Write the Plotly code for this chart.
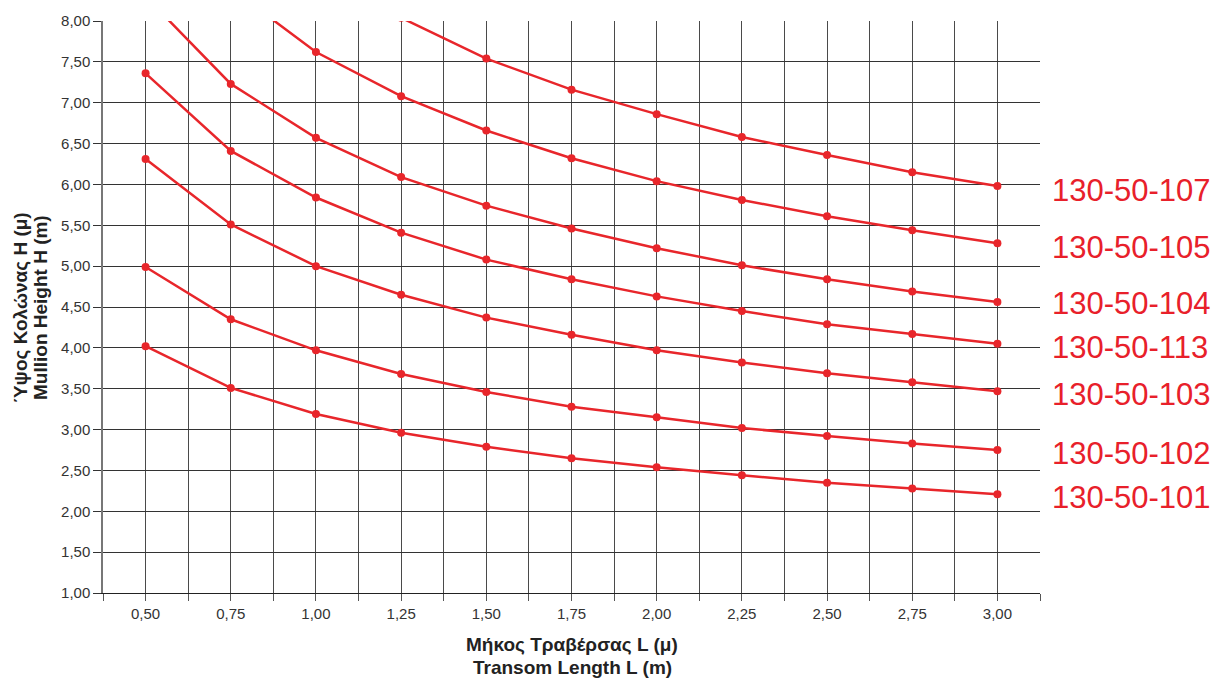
import plotly.graph_objects as go

# ---- data ----
L = [0.50, 0.75, 1.00, 1.25, 1.50, 1.75, 2.00, 2.25, 2.50, 2.75, 3.00]

series_names = ["130-50-107", "130-50-105", "130-50-104", "130-50-113",
                "130-50-103", "130-50-102", "130-50-101"]

h_107 = [None, None, 9.20, 8.04, 7.54, 7.16, 6.86, 6.58, 6.36, 6.15, 5.98]
h_105 = [9.64, 8.40, 7.62, 7.08, 6.66, 6.32, 6.04, 5.81, 5.61, 5.44, 5.28]
h_104 = [8.30, 7.23, 6.57, 6.09, 5.74, 5.46, 5.22, 5.01, 4.84, 4.69, 4.56]
h_113 = [7.36, 6.41, 5.84, 5.41, 5.08, 4.84, 4.63, 4.45, 4.29, 4.17, 4.05]
h_103 = [6.31, 5.51, 5.00, 4.65, 4.37, 4.16, 3.97, 3.82, 3.69, 3.58, 3.47]
h_102 = [4.99, 4.35, 3.97, 3.68, 3.46, 3.28, 3.15, 3.02, 2.92, 2.83, 2.75]
h_101 = [4.02, 3.51, 3.19, 2.96, 2.79, 2.65, 2.54, 2.44, 2.35, 2.28, 2.21]

series_values = [h_107, h_105, h_104, h_113, h_103, h_102, h_101]

x_tickvals = [0.375 + 0.125 * i for i in range(23)]
x_ticktext = ["" if abs((v - 0.5) / 0.25 - round((v - 0.5) / 0.25)) > 1e-9
              else f"{v:.2f}".replace(".", ",") for v in x_tickvals]
y_tickvals = [1.0 + 0.5 * i for i in range(15)]
y_ticktext = [f"{v:.2f}".replace(".", ",") for v in y_tickvals]

# label placement (layout only)
label_y = [5.93, 5.23, 4.54, 4.01, 3.43, 2.71, 2.17]

RED = "#e8262b"
FONT = "Liberation Sans, Arial, sans-serif"

fig = go.Figure()
for name, vals in zip(series_names, series_values):
    fig.add_trace(go.Scatter(
        x=L, y=vals, name=name, mode="lines+markers",
        line=dict(color=RED, width=2.5),
        marker=dict(color=RED, size=8),
        cliponaxis=True, showlegend=False,
    ))

W, H = 1216, 680
ml, mr, mt, mb = 103, 176, 17, 87
pw = W - ml - mr
ph = H - mt - mb

def px_x(p):
    return (p - ml) / pw

def px_y(p):
    return 1 - (p - mt) / ph

annotations = []
for name, ly in zip(series_names, label_y):
    annotations.append(dict(
        x=px_x(1050), xref="paper", y=ly, yref="y",
        text=name, showarrow=False, xanchor="left", yanchor="middle",
        font=dict(family=FONT, size=31, color="#e8202a"),
    ))

TITLE_FONT = dict(family=FONT, size=19, color="#222")
annotations += [
    dict(x=px_x(572), y=px_y(645), xref="paper", yref="paper",
         text="<b>Μήκος Τραβέρσας L (μ)</b>", showarrow=False,
         xanchor="center", yanchor="middle", font=TITLE_FONT),
    dict(x=px_x(572), y=px_y(668), xref="paper", yref="paper",
         text="<b>Transom Length L (m)</b>", showarrow=False,
         xanchor="center", yanchor="middle", font=TITLE_FONT),
    dict(x=px_x(21), y=px_y(306), xref="paper", yref="paper",
         text="<b>Ύψος Κολώνας Η (μ)</b>", showarrow=False, textangle=-90,
         xanchor="center", yanchor="middle", font=TITLE_FONT),
    dict(x=px_x(41), y=px_y(306), xref="paper", yref="paper",
         text="<b>Mullion Height H (m)</b>", showarrow=False, textangle=-90,
         xanchor="center", yanchor="middle", font=TITLE_FONT),
]

fig.update_layout(
    width=W, height=H,
    margin=dict(l=ml, r=mr, t=mt, b=mb),
    paper_bgcolor="white", plot_bgcolor="white",
    font=dict(family=FONT, size=15, color="#333"),
    annotations=annotations,
    xaxis=dict(
        range=[0.375, 3.125], tickmode="array",
        tickvals=x_tickvals, ticktext=x_ticktext,
        ticks="outside", ticklen=7, tickcolor="#555", tickwidth=1,
        showgrid=True, gridcolor="#4a4a4a", gridwidth=1.2,
        showline=True, linecolor="#222", linewidth=1.2,
        zeroline=False, tickfont=dict(size=15, color="#333"),
        fixedrange=True,
    ),
    yaxis=dict(
        range=[1, 8], tickmode="array",
        tickvals=y_tickvals, ticktext=y_ticktext,
        ticks="outside", ticklen=8, tickcolor="#333", tickwidth=1,
        showgrid=True, gridcolor="#333", gridwidth=1.2,
        showline=True, linecolor="#777", linewidth=1.5,
        zeroline=False, tickfont=dict(size=15, color="#333"),
        fixedrange=True,
    ),
)

fig.write_html(
    "out.html",
    config={"displayModeBar": False},
    post_script="document.body.style.margin='0';document.body.style.overflow='hidden';",
)
